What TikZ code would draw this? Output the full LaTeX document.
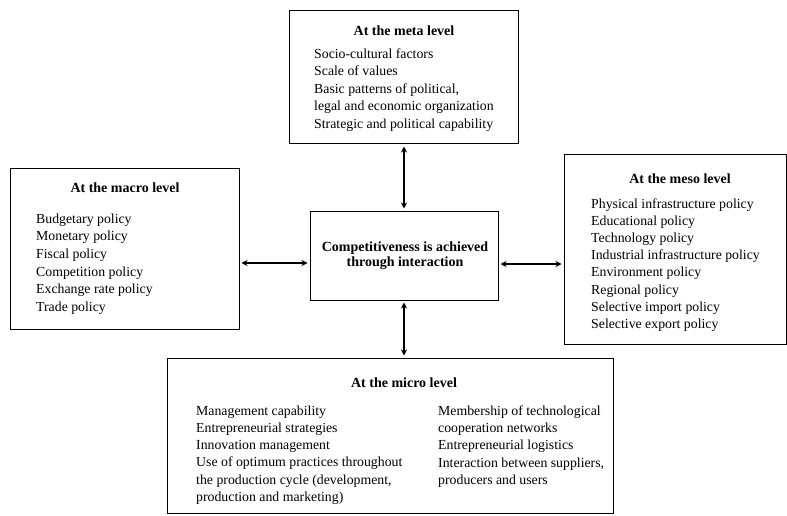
\documentclass[tikz,border=0pt]{standalone}
\usepackage{fontspec}
\setmainfont{Liberation Serif}
\usetikzlibrary{arrows.meta}
\begin{document}
\begin{tikzpicture}[x=1pt,y=-1pt,
  box/.style={draw, line width=1pt, inner sep=0pt, outer sep=0pt},
  lbl/.style={anchor=west, align=left, inner sep=0pt, font=\fontsize{13.8}{17.3}\selectfont},
  ttl/.style={inner sep=0pt, font=\fontsize{14}{15}\selectfont\bfseries},
  link/.style={{Stealth[length=6pt,width=6pt]}-{Stealth[length=6pt,width=6pt]}, line width=1.3pt, shorten >=2.5pt, shorten <=2.5pt}]
\useasboundingbox (0,0) rectangle (787,516);
% boxes
\node[box, minimum width=229pt, minimum height=133pt] (meta) at (403.5,77.5) {};
\node[box, minimum width=229pt, minimum height=161pt] (macro) at (124.5,248.5) {};
\node[box, minimum width=188pt, minimum height=89pt] (central) at (404,255.5) {};
\node[box, minimum width=222pt, minimum height=189pt] (meso) at (675,249.5) {};
\node[box, minimum width=446pt, minimum height=155pt] (micro) at (390,435.5) {};
% titles
\node[ttl] (metat) at (404,30.5) {At the meta level};
\node[ttl] (macrot) at (125,187.5) {At the macro level};
\node[ttl] (mesot) at (680,178.5) {At the meso level};
\node[ttl] (microt) at (404,382.5) {At the micro level};
\node[ttl, align=center, font=\fontsize{14}{15}\selectfont\bfseries] (ct) at (405,256) {Competitiveness is achieved\\through interaction};
% lists
\node[lbl, font=\fontsize{13.8}{17.5}\selectfont] (metal) at (314,90) {Socio-cultural factors\\Scale of values\\Basic patterns of political,\\legal and economic organization\\Strategic and political capability};
\node[lbl, font=\fontsize{13.8}{17.6}\selectfont] (macrol) at (36,264) {Budgetary policy\\Monetary policy\\Fiscal policy\\Competition policy\\Exchange rate policy\\Trade policy};
\node[lbl, font=\fontsize{13.8}{17.15}\selectfont] (mesol) at (591,265) {Physical infrastructure policy\\Educational policy\\Technology policy\\Industrial infrastructure policy\\Environment policy\\Regional policy\\Selective import policy\\Selective export policy};
\node[lbl, font=\fontsize{13.8}{17.2}\selectfont] (microl) at (196,455) {Management capability\\Entrepreneurial strategies\\Innovation management\\Use of optimum practices throughout\\the production cycle (development,\\production and marketing)};
\node[lbl, font=\fontsize{13.8}{17.2}\selectfont] (micror) at (438,446.5) {Membership of technological\\cooperation networks\\Entrepreneurial logistics\\Interaction between suppliers,\\producers and users};
% connectors
\draw[link] (meta.south -| central.north) -- (central.north);
\draw[link] (macro.east |- 0,263) -- (central.west |- 0,263);
\draw[link] (central.east |- 0,264) -- (meso.west |- 0,264);
\draw[link] (central.south) -- (central.south |- micro.north);
\end{tikzpicture}
\end{document}
